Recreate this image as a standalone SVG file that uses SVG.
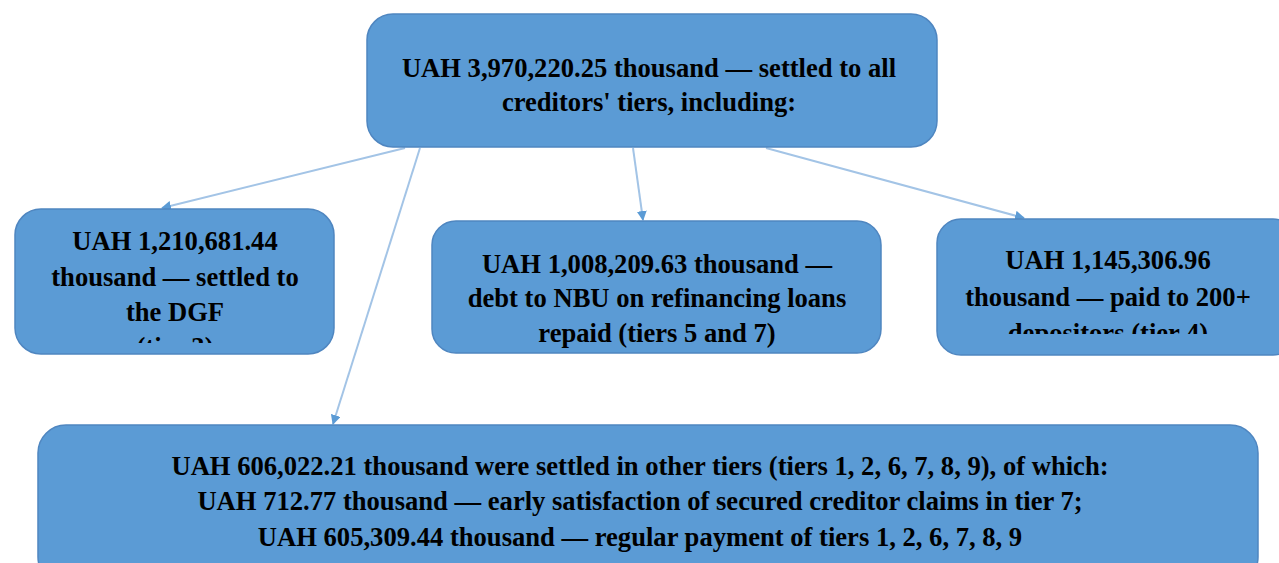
<svg xmlns="http://www.w3.org/2000/svg" width="1279" height="563" viewBox="0 0 1279 563">
<style>
.box{fill:#5b9bd5;stroke:#4f86c0;stroke-width:1.5}
.t{font-family:"Liberation Serif",serif;font-weight:bold;font-size:26.6px;fill:#000;text-anchor:middle}
.c{stroke:#a3c4e6;stroke-width:2;fill:none;marker-end:url(#ah)}
</style>
<defs>
<marker id="ah" viewBox="0 0 10 10" refX="9" refY="5" markerWidth="10" markerHeight="10" markerUnits="userSpaceOnUse" orient="auto">
<path d="M0,0 L10,5 L0,10 z" fill="#5b9bd5"/>
</marker>
<clipPath id="cl"><rect x="15" y="209" width="320" height="134"/></clipPath>
<clipPath id="cr"><rect x="937" y="219" width="342" height="115"/></clipPath>
</defs>
<rect width="1279" height="563" fill="#fff"/>
<g id="connectors">
<line class="c" x1="405" y1="148" x2="162" y2="208"/>
<line class="c" x1="420" y1="148" x2="333" y2="424"/>
<line class="c" x1="633" y1="148" x2="643" y2="220"/>
<line class="c" x1="766" y1="148" x2="1024" y2="218"/>
</g>
<g id="top">
<rect class="box" x="367" y="14" width="570" height="133" rx="26"/>
<text class="t" x="649" y="77">UAH 3,970,220.25 thousand — settled to all</text>
<text class="t" x="649" y="111">creditors' tiers, including:</text>
</g>
<g id="left">
<rect class="box" x="15" y="209" width="319" height="145" rx="26"/>
<g clip-path="url(#cl)">
<text class="t" x="175" y="250">UAH 1,210,681.44</text>
<text class="t" x="175" y="286">thousand — settled to</text>
<text class="t" x="175" y="321">the DGF</text>
<text class="t" x="175" y="356">(tier 3)</text>
</g>
</g>
<g id="middle">
<rect class="box" x="432" y="221" width="449" height="132" rx="24"/>
<text class="t" x="657" y="273">UAH 1,008,209.63 thousand —</text>
<text class="t" x="657" y="307">debt to NBU on refinancing loans</text>
<text class="t" x="657" y="342">repaid (tiers 5 and 7)</text>
</g>
<g id="right">
<rect class="box" x="937" y="219" width="360" height="136" rx="24"/>
<g clip-path="url(#cr)">
<text class="t" x="1108" y="269">UAH 1,145,306.96</text>
<text class="t" x="1108" y="306">thousand — paid to 200+</text>
<text class="t" x="1108" y="342">depositors (tier 4)</text>
</g>
</g>
<g id="bottom">
<rect class="box" x="38" y="425" width="1220" height="160" rx="28"/>
<text class="t" x="640" y="475">UAH 606,022.21 thousand were settled in other tiers (tiers 1, 2, 6, 7, 8, 9), of which:</text>
<text class="t" x="640" y="510">UAH 712.77 thousand — early satisfaction of secured creditor claims in tier 7;</text>
<text class="t" x="640" y="546">UAH 605,309.44 thousand — regular payment of tiers 1, 2, 6, 7, 8, 9</text>
</g>
</svg>
